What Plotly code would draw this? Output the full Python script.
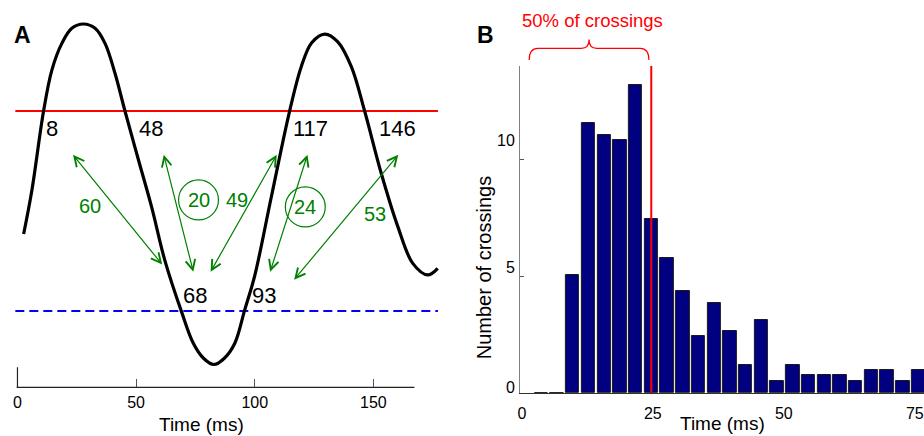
import plotly.graph_objects as go

FONT = "Liberation Sans"
W, H = 924, 436
GREEN = "#008000"

# ---------------- Panel A: oscillation and threshold crossings ----------------
wave_t = [2.6, 6.1, 11.0, 14.5, 18.7, 22.9, 27.8, 32.7, 36.9, 41.1, 45.3, 51.0,
          56.6, 62.2, 69.2, 74.1, 78.4, 82.8, 87.2, 91.6, 95.8, 100.0, 107.0, 114.7,
          119.6, 124.0, 129.5, 135.0, 140.7, 146.3, 153.3, 160.3, 166.6, 172.9, 177.1]
wave_v = [-0.235, 0.024, 0.488, 0.729, 0.886, 0.975, 1.0, 0.975, 0.886, 0.710, 0.488, 0.20,
          -0.08, -0.395, -0.695, -0.878, -0.966, -1.003, -0.966, -0.878, -0.68, -0.48, -0.016,
          0.488, 0.749, 0.890, 0.941, 0.895, 0.749, 0.488, 0.122, -0.192, -0.408, -0.476, -0.437]

upper_threshold = 0.488
lower_threshold = -0.688
threshold_span = [-0.9, 177.2]

# crossing times written next to the curve
up_labels = ["8", "48", "117", "146"]
up_label_t = [14.7, 56.1, 123.3, 160.1]
up_label_v = [0.386, 0.386, 0.386, 0.388]
down_labels = ["68", "93"]
down_label_t = [74.9, 104.1]
down_label_v = [-0.596, -0.596]

# intervals between crossings (double-headed arrows)
interval_labels = ["60", "20", "49", "24", "53"]
interval_label_t = [30.6, 76.3, 92.4, 121.3, 150.7]
interval_label_v = [-0.069, -0.035, -0.035, -0.076, -0.118]
interval_circled = [False, True, False, True, False]
arrow_top_t = [22.9, 61.5, 109.6, 122.4, 161.0]
arrow_top_v = [0.239, 0.239, 0.239, 0.239, 0.239]
arrow_bot_t = [61.0, 74.1, 81.4, 106.5, 116.6]
arrow_bot_v = [-0.415, -0.457, -0.457, -0.457, -0.504]

time_ticks_a = [0, 50, 100, 150]

# ---------------- Panel B: histogram of crossing intervals ----------------
bin_centers = [3.7, 6.7, 9.7, 12.7, 15.7, 18.7, 21.7, 24.7, 27.7, 30.7, 33.7, 36.7, 39.7,
               42.7, 45.7, 48.7, 51.7, 54.7, 57.7, 60.7, 63.7, 66.7, 69.7, 72.7, 75.7]
crossing_counts = [0, 0, 5.03, 11.55, 11.05, 10.85, 13.2, 7.46, 5.76, 4.37, 2.43, 3.83, 2.64,
                   1.2, 3.11, 0.5, 1.2, 0.77, 0.77, 0.77, 0.5, 0.97, 0.97, 0.5, 0.97]
half_crossings_time = 24.7
brace_start = 1.4
time_ticks_b = [0, 25, 50, 75]
count_ticks = [0, 5, 10]
count_label_lift = [5.7, 9, 19.3]   # px the count labels sit above their ticks

# ---------------- axis geometry (pixels) ----------------
A_X0_PX, A_PX_PER_MS = 15.5, 2.378
A_XRANGE = [-6, 180]
A_MID_PX, A_PX_PER_UNIT = 194.0, 170.0
A_YRANGE = [-1.137, 1.1]

B_X0_PX, B_PX_PER_MS = 521.0, 5.25
B_LEFT_PX, B_RIGHT_PX = 519.0, 924.0
B_BOTTOM_PX, B_TOP_PX = 392.7, 66.0
B_YRANGE = [0, 14]


def px_to_xpaper(px):
    return px / W


def px_to_ypaper(py):
    return 1 - py / H


a_xdom = [px_to_xpaper(A_X0_PX + A_XRANGE[0] * A_PX_PER_MS),
          px_to_xpaper(A_X0_PX + A_XRANGE[1] * A_PX_PER_MS)]
a_ydom = [px_to_ypaper(A_MID_PX - A_YRANGE[0] * A_PX_PER_UNIT),
          px_to_ypaper(A_MID_PX - A_YRANGE[1] * A_PX_PER_UNIT)]
b_xrange = [(B_LEFT_PX - B_X0_PX) / B_PX_PER_MS, (B_RIGHT_PX - B_X0_PX) / B_PX_PER_MS]
b_xdom = [px_to_xpaper(B_LEFT_PX), px_to_xpaper(B_RIGHT_PX)]
b_ydom = [px_to_ypaper(B_BOTTOM_PX), px_to_ypaper(B_TOP_PX)]

fig = go.Figure()

# thresholds
fig.add_trace(go.Scatter(x=threshold_span, y=[upper_threshold] * 2, mode="lines",
                         line=dict(color="#ff0000", width=2), xaxis="x", yaxis="y",
                         hoverinfo="skip", showlegend=False))
fig.add_trace(go.Scatter(x=threshold_span, y=[lower_threshold] * 2, mode="lines",
                         line=dict(color="#0000ff", width=2, dash="9px,5px"),
                         xaxis="x", yaxis="y", hoverinfo="skip", showlegend=False))
# waveform
fig.add_trace(go.Scatter(x=wave_t, y=wave_v, mode="lines",
                         line=dict(color="black", width=3.2, shape="spline", smoothing=1.0),
                         xaxis="x", yaxis="y", hoverinfo="skip", showlegend=False))

# histogram
fig.add_trace(go.Bar(x=bin_centers, y=crossing_counts, width=2.55,
                     marker=dict(color="#000080", line=dict(color="#1a1a1a", width=1)),
                     xaxis="x2", yaxis="y2", hoverinfo="skip", showlegend=False))

annotations = []
shapes = []

for txt, t, v in zip(up_labels + down_labels, up_label_t + down_label_t,
                     up_label_v + down_label_v):
    annotations.append(dict(x=t, y=v, xref="x", yref="y", text=txt, showarrow=False,
                            font=dict(family=FONT, size=22, color="black"),
                            xanchor="center", yanchor="middle"))

for txt, t, v, circ in zip(interval_labels, interval_label_t, interval_label_v, interval_circled):
    annotations.append(dict(x=t, y=v, xref="x", yref="y", text=txt, showarrow=False,
                            font=dict(family=FONT, size=20, color=GREEN),
                            xanchor="center", yanchor="middle"))
    if circ:
        rx = 20 / A_PX_PER_MS
        ry = 20 / A_PX_PER_UNIT
        shapes.append(dict(type="circle", xref="x", yref="y",
                           x0=t - rx, x1=t + rx, y0=v - ry, y1=v + ry,
                           line=dict(color=GREEN, width=1.2)))

for t0, v0, t1, v1 in zip(arrow_top_t, arrow_top_v, arrow_bot_t, arrow_bot_v):
    annotations.append(dict(x=t1, y=v1, ax=t0, ay=v0, xref="x", yref="y",
                            axref="x", ayref="y", text="", showarrow=True,
                            arrowhead=5, startarrowhead=5, arrowside="end+start",
                            arrowsize=1.6, startarrowsize=1.6, arrowwidth=1.2,
                            arrowcolor=GREEN, standoff=0, startstandoff=0))

# panel A baseline and short left stub
shapes.append(dict(type="line", xref="x", yref="y domain", x0=-0.34, x1=167.3, y0=0, y1=0,
                   line=dict(color="#222222", width=1.2)))
stub = 20 / ((a_ydom[1] - a_ydom[0]) * H)
shapes.append(dict(type="line", xref="x", yref="y domain", x0=0, x1=0, y0=0, y1=stub,
                   line=dict(color="#222222", width=1.2)))

# panel B: median line and brace
shapes.append(dict(type="line", xref="x2", yref="y2", x0=half_crossings_time,
                   x1=half_crossings_time, y0=0, y1=B_YRANGE[1],
                   line=dict(color="#ff0000", width=2)))
y_end, y_mid, y_tip = px_to_ypaper(60), px_to_ypaper(48.3), px_to_ypaper(39.5)
brace_end = half_crossings_time - 0.45
x_mid = (brace_start + brace_end) / 2
r_end, r_tip = 1.65, 1.47
brace = (f"M {brace_start},{y_end} Q {brace_start},{y_mid} {brace_start + r_end},{y_mid} "
         f"L {x_mid - r_tip},{y_mid} Q {x_mid},{y_mid} {x_mid},{y_tip} "
         f"Q {x_mid},{y_mid} {x_mid + r_tip},{y_mid} L {brace_end - r_end},{y_mid} "
         f"Q {brace_end},{y_mid} {brace_end},{y_end}")
shapes.append(dict(type="path", xref="x2", yref="paper", path=brace,
                   line=dict(color="#ff0000", width=1.2)))

annotations.append(dict(x=px_to_xpaper(591.7), y=px_to_ypaper(21), xref="paper", yref="paper",
                        text="50% of crossings", showarrow=False,
                        font=dict(family=FONT, size=18.5, color="#ff0000"),
                        xanchor="center", yanchor="middle"))

# count labels beside the panel B ticks
for val, lift in zip(count_ticks, count_label_lift):
    annotations.append(dict(x=b_xdom[0], y=val, xref="paper", yref="y2", text=str(val),
                            showarrow=False, xanchor="right", yanchor="middle",
                            xshift=-3, yshift=lift,
                            font=dict(family=FONT, size=16, color="black")))

# panel letters and axis titles
for letter, px, py in [("A", 21, 35), ("B", 485, 34.7)]:
    annotations.append(dict(x=px_to_xpaper(px), y=px_to_ypaper(py), xref="paper", yref="paper",
                            text=f"<b>{letter}</b>", showarrow=False,
                            font=dict(family=FONT, size=23, color="black"),
                            xanchor="center", yanchor="middle"))
for px, py in [(200, 424.5), (721.7, 423.0)]:
    annotations.append(dict(x=px_to_xpaper(px), y=px_to_ypaper(py), xref="paper", yref="paper",
                            text="Time (ms)", showarrow=False,
                            font=dict(family=FONT, size=19, color="black"),
                            xanchor="center", yanchor="middle"))
annotations.append(dict(x=px_to_xpaper(483.3), y=px_to_ypaper(268), xref="paper", yref="paper",
                        text="Number of crossings", textangle=-90, showarrow=False,
                        font=dict(family=FONT, size=20, color="black"),
                        xanchor="center", yanchor="middle"))

tick_font = dict(family=FONT, size=16, color="black")

fig.update_layout(
    width=W, height=H,
    margin=dict(l=0, r=0, t=0, b=0),
    paper_bgcolor="white", plot_bgcolor="white",
    font=dict(family=FONT),
    bargap=0,
    showlegend=False,
    xaxis=dict(domain=a_xdom, range=A_XRANGE, anchor="y", showgrid=False, zeroline=False,
               showline=False, tickmode="array", tickvals=time_ticks_a,
               ticks="inside", ticklen=8, tickwidth=1, tickcolor="#555555",
               tickfont=tick_font, ticklabelstandoff=4),
    yaxis=dict(domain=a_ydom, range=A_YRANGE, anchor="x", visible=False),
    xaxis2=dict(domain=b_xdom, range=b_xrange, anchor="y2", showgrid=False, zeroline=False,
                showline=True, linecolor="#333333", linewidth=1.2,
                tickmode="array", tickvals=time_ticks_b, ticks="",
                tickfont=tick_font, ticklabelstandoff=6),
    yaxis2=dict(domain=b_ydom, range=B_YRANGE, anchor="x2", showgrid=False, zeroline=False,
                showline=True, linecolor="#808080", linewidth=1.2,
                tickmode="array", tickvals=count_ticks, ticks="inside", ticklen=4,
                tickcolor="#555555", showticklabels=False),
    annotations=annotations,
    shapes=shapes,
)

fig.write_html("out.html")
